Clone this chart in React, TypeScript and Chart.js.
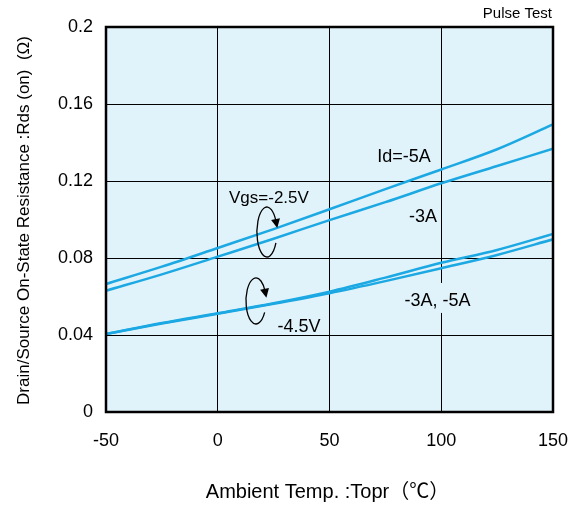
import React, { useEffect, useRef } from 'react';
import { Chart, registerables } from 'chart.js';

Chart.register(...registerables);

// ---- data ----
const temps = [-50, -25, 0, 25, 50, 75, 100, 125, 150];
const rdsVgs25Id5 = [0.0665, 0.0755, 0.0852, 0.095, 0.1053, 0.1158, 0.126, 0.1365, 0.1494];
const rdsVgs25Id3 = [0.063, 0.0715, 0.0807, 0.09, 0.0997, 0.109, 0.1188, 0.1278, 0.1368];
const rdsVgs45Id5 = [0.0405, 0.0462, 0.0513, 0.0565, 0.0625, 0.0698, 0.0775, 0.0842, 0.0925];
const rdsVgs45Id3 = [0.0405, 0.046, 0.051, 0.0562, 0.0617, 0.068, 0.0747, 0.0816, 0.0897];

const xTicks = [-50, 0, 50, 100, 150];
const xTickLabels = ['-50', '0', '50', '100', '150'];
const yTicks = [0, 0.04, 0.08, 0.12, 0.16, 0.2];
const yTickLabels = ['0', '0.04', '0.08', '0.12', '0.16', '0.2'];

const xTitle = 'Ambient Temp. :Topr（℃）';
const yTitle = 'Drain/Source On-State Resistance :Rds (on)  (Ω)';
const noteText = 'Pulse Test';

// annotation labels (data coords of text baseline centre)
const labelTexts = ['Id=-5A', '-3A', 'Vgs=-2.5V', '-3A, -5A', '-4.5V'];
const labelX = [83.3, 91.8, 22.9, 98.3, 36.4];
const labelY = [0.1299, 0.0987, 0.1086, 0.0551, 0.0416];
const labelBoxed = [false, false, false, true, false];
const labelSize = [18, 18, 17, 18, 18];

// curl arrows (data coords of loop centre)
const loopX = [22.0, 17.1];
const loopY = [0.0935, 0.0577];

const FONT = "'Liberation Sans', Arial, 'Noto Sans CJK JP', sans-serif";
const LINE_COLOR = '#1BA8E3';
const PLOT_BG = '#E1F3FA';

const toPoints = (ys: number[]) => temps.map((t, i) => ({ x: t, y: ys[i] }));

const decorPlugin = {
  id: 'decor',
  beforeDraw(chart: any) {
    const { ctx, chartArea: a } = chart;
    ctx.save();
    ctx.fillStyle = PLOT_BG;
    ctx.fillRect(a.left, a.top, a.right - a.left, a.bottom - a.top);
    ctx.restore();
  },
  afterDraw(chart: any) {
    const { ctx, chartArea: a, scales } = chart;
    const xs = scales.x;
    const ys = scales.y;
    ctx.save();
    // border
    ctx.strokeStyle = '#000';
    ctx.lineWidth = 2.5;
    ctx.strokeRect(a.left, a.top, a.right - a.left, a.bottom - a.top);

    // labels
    ctx.fillStyle = '#000';
    ctx.textBaseline = 'alphabetic';
    ctx.textAlign = 'center';
    labelTexts.forEach((t, i) => {
      const px = xs.getPixelForValue(labelX[i]);
      const py = ys.getPixelForValue(labelY[i]);
      ctx.font = `${labelSize[i]}px ${FONT}`;
      if (labelBoxed[i]) {
        const w = ctx.measureText(t).width + 8;
        ctx.fillStyle = PLOT_BG;
        ctx.fillRect(px - w / 2, py - 23, w, 30);
        ctx.fillStyle = '#000';
      }
      ctx.fillText(t, px, py);
    });

    // curl arrows
    ctx.strokeStyle = '#000';
    ctx.lineWidth = 1.3;
    const loops = [
      { rx: 10, ry: 25, s: 26, e: 334 },
      { rx: 10, ry: 23, s: 30, e: 334 },
    ];
    loopX.forEach((lx, i) => {
      const cx = xs.getPixelForValue(lx);
      const cy = ys.getPixelForValue(loopY[i]);
      const L = loops[i];
      const s = (L.s * Math.PI) / 180;
      const e = (L.e * Math.PI) / 180;
      ctx.beginPath();
      ctx.ellipse(cx, cy, L.rx, L.ry, 0, s, e, false);
      ctx.stroke();
      // arrowhead at end
      const ex = cx + L.rx * Math.cos(e);
      const ey = cy + L.ry * Math.sin(e);
      let tx = -L.rx * Math.sin(e);
      let ty = L.ry * Math.cos(e);
      const n = Math.hypot(tx, ty);
      tx /= n; ty /= n;
      const len = 9, wid = 4.5;
      const bx = ex - tx * 2, by = ey - ty * 2;
      ctx.beginPath();
      ctx.moveTo(bx + tx * len, by + ty * len);
      ctx.lineTo(bx - ty * wid, by + tx * wid);
      ctx.lineTo(bx + ty * wid, by - tx * wid);
      ctx.closePath();
      ctx.fillStyle = '#000';
      ctx.fill();
    });

    // note
    ctx.font = `15px ${FONT}`;
    ctx.textAlign = 'right';
    ctx.fillText(noteText, a.right - 1, 18);

    // x title
    ctx.font = `20px ${FONT}`;
    ctx.textAlign = 'center';
    ctx.fillText(xTitle, (a.left + a.right) / 2 - 2, 498);

    // y title
    ctx.translate(29, (a.top + a.bottom) / 2 + 1);
    ctx.rotate(-Math.PI / 2);
    ctx.font = `17px ${FONT}`;
    ctx.textAlign = 'center';
    ctx.fillText(yTitle, 0, 0);
    ctx.restore();
  },
};

export default function App() {
  const ref = useRef<HTMLCanvasElement | null>(null);
  useEffect(() => {
    document.body.style.margin = '0';
    const canvas = ref.current!;
    const ds = (data: number[]) => ({
      data: toPoints(data),
      borderColor: LINE_COLOR,
      borderWidth: 2.5,
      pointRadius: 0,
      fill: false,
      cubicInterpolationMode: 'monotone' as const,
    });
    const chart = new Chart(canvas, {
      type: 'line',
      data: {
        datasets: [ds(rdsVgs25Id5), ds(rdsVgs25Id3), ds(rdsVgs45Id5), ds(rdsVgs45Id3)],
      },
      options: {
        animation: false,
        responsive: false,
        maintainAspectRatio: false,
        devicePixelRatio: 1,
        layout: { padding: { top: 27, right: 20, left: 0, bottom: 0 } },
        plugins: { legend: { display: false }, tooltip: { enabled: false } },
        scales: {
          x: {
            type: 'linear',
            min: -50,
            max: 150,
            afterBuildTicks: (s: any) => { s.ticks = xTicks.map((v) => ({ value: v })); },
            afterFit: (s: any) => {
              s.height = 94;
              s.paddingLeft = 0;
              s.paddingRight = 0;
            },
            ticks: {
              autoSkip: false,
              maxRotation: 0,
              padding: 18,
              color: '#000',
              font: { size: 18, family: FONT },
              callback: (v: any) => xTickLabels[xTicks.indexOf(Number(v))] ?? '',
            },
            grid: { color: '#000', lineWidth: 1, drawTicks: false },
            border: { display: false },
          },
          y: {
            type: 'linear',
            min: 0,
            max: 0.2,
            afterBuildTicks: (s: any) => { s.ticks = yTicks.map((v) => ({ value: v })); },
            afterFit: (s: any) => {
              s.width = 106;
              s.paddingTop = 0;
              s.paddingBottom = 0;
            },
            ticks: {
              autoSkip: false,
              padding: 13,
              color: '#000',
              font: { size: 18, family: FONT },
              callback: (v: any) => {
                const i = yTicks.findIndex((t) => Math.abs(t - Number(v)) < 1e-9);
                return i >= 0 ? yTickLabels[i] : '';
              },
            },
            grid: { color: '#000', lineWidth: 1, drawTicks: false },
            border: { display: false },
          },
        },
      },
      plugins: [decorPlugin],
    });
    return () => chart.destroy();
  }, []);
  return (
    <div style={{ position: 'fixed', left: 0, top: 0, width: 573, height: 506 }}>
      <canvas ref={ref} width={573} height={506} style={{ width: 573, height: 506, display: 'block' }} />
    </div>
  );
}
